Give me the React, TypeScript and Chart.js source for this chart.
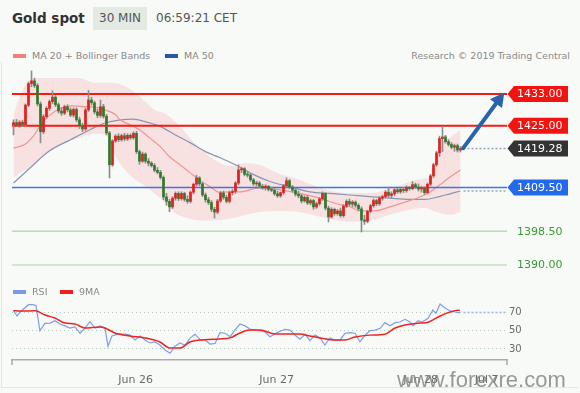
import React, { useEffect, useRef } from 'react';
import { Chart, registerables } from 'chart.js';

Chart.register(...registerables);
Chart.defaults.font.family = '"DejaVu Sans", sans-serif';

// 30-minute candles: [open, high, low, close]; x = bar number
const candles: number[][] = [
  [1425.2, 1426.5, 1422.7, 1425.8], [1425.8, 1426.6, 1424.9, 1425.1], [1425.1, 1426.3, 1424.6, 1425.9],
  [1425.9, 1426.4, 1424.8, 1425.3], [1425.3, 1430.5, 1424.9, 1430.2], [1430.2, 1436.0, 1429.8, 1435.6],
  [1435.6, 1438.8, 1434.8, 1436.3], [1436.3, 1437.0, 1434.6, 1435.1], [1435.1, 1435.6, 1430.0, 1430.5],
  [1430.5, 1431.0, 1420.7, 1423.5], [1423.5, 1427.8, 1423.0, 1427.3], [1427.3, 1429.8, 1426.8, 1429.4],
  [1429.4, 1431.5, 1428.9, 1431.1], [1431.1, 1433.8, 1430.5, 1432.2], [1432.2, 1432.6, 1429.8, 1430.3],
  [1430.3, 1430.8, 1428.2, 1428.7], [1428.7, 1429.6, 1427.6, 1428.2], [1428.2, 1430.2, 1427.8, 1429.8],
  [1429.8, 1430.3, 1428.5, 1429.0], [1429.0, 1429.5, 1427.3, 1427.7], [1427.7, 1429.5, 1427.2, 1429.1],
  [1429.1, 1429.5, 1426.0, 1426.5], [1426.5, 1427.2, 1424.3, 1425.0], [1425.0, 1425.6, 1423.5, 1424.2],
  [1424.2, 1429.5, 1423.8, 1429.0], [1429.0, 1433.9, 1428.6, 1431.5], [1431.5, 1432.2, 1430.2, 1430.8],
  [1430.8, 1431.2, 1428.0, 1428.5], [1428.5, 1429.2, 1427.0, 1427.6], [1427.6, 1431.5, 1427.1, 1429.8],
  [1429.8, 1430.4, 1426.9, 1427.4], [1427.4, 1427.9, 1422.7, 1423.2], [1423.2, 1423.6, 1411.9, 1415.2],
  [1415.2, 1421.5, 1414.8, 1421.2], [1421.2, 1422.8, 1420.8, 1422.4], [1422.4, 1423.0, 1421.0, 1421.5],
  [1421.5, 1422.9, 1421.1, 1422.5], [1422.5, 1423.1, 1421.2, 1421.7], [1421.7, 1423.0, 1421.3, 1422.6],
  [1422.6, 1423.0, 1421.6, 1422.0], [1422.0, 1423.5, 1421.6, 1423.1], [1423.1, 1423.6, 1418.0, 1418.5],
  [1418.5, 1418.9, 1415.3, 1416.1], [1416.1, 1418.4, 1415.8, 1417.9], [1417.9, 1418.2, 1415.6, 1416.1],
  [1416.1, 1416.8, 1414.9, 1415.6], [1415.6, 1416.0, 1414.6, 1415.0], [1415.0, 1415.5, 1413.4, 1413.8],
  [1413.8, 1414.5, 1412.9, 1413.3], [1413.3, 1413.8, 1411.6, 1412.0], [1412.0, 1412.4, 1406.4, 1407.1],
  [1407.1, 1408.0, 1405.0, 1406.0], [1406.0, 1406.5, 1403.4, 1404.6], [1404.6, 1407.2, 1404.2, 1406.8],
  [1406.8, 1408.4, 1406.3, 1408.0], [1408.0, 1408.4, 1406.2, 1406.7], [1406.7, 1408.4, 1406.3, 1408.0],
  [1408.0, 1408.3, 1406.0, 1406.5], [1406.5, 1407.4, 1405.5, 1406.0], [1406.0, 1408.6, 1405.6, 1408.3],
  [1408.3, 1410.6, 1407.9, 1410.3], [1410.3, 1412.6, 1409.8, 1411.9], [1411.9, 1412.2, 1409.9, 1410.4],
  [1410.4, 1410.8, 1407.2, 1407.6], [1407.6, 1408.1, 1405.8, 1406.4], [1406.4, 1407.0, 1405.2, 1405.7],
  [1405.7, 1406.2, 1403.4, 1404.0], [1404.0, 1404.5, 1401.8, 1403.3], [1403.3, 1406.5, 1402.9, 1406.1],
  [1406.1, 1408.5, 1405.7, 1408.1], [1408.1, 1408.6, 1406.5, 1407.0], [1407.0, 1407.5, 1405.6, 1406.0],
  [1406.0, 1408.6, 1405.6, 1408.2], [1408.2, 1409.0, 1407.6, 1408.5], [1408.5, 1411.0, 1408.0, 1410.6],
  [1410.6, 1415.2, 1410.2, 1413.9], [1413.9, 1414.6, 1413.2, 1414.2], [1414.2, 1414.5, 1412.4, 1412.8],
  [1412.8, 1413.6, 1412.1, 1412.6], [1412.6, 1413.0, 1411.0, 1411.4], [1411.4, 1411.8, 1410.0, 1410.4],
  [1410.4, 1411.1, 1409.8, 1410.6], [1410.6, 1411.0, 1409.4, 1409.8], [1409.8, 1410.3, 1409.0, 1409.4],
  [1409.4, 1410.2, 1408.8, 1409.8], [1409.8, 1410.0, 1408.6, 1409.0], [1409.0, 1409.6, 1408.4, 1408.8],
  [1408.8, 1409.2, 1407.5, 1407.9], [1407.9, 1408.6, 1407.0, 1407.4], [1407.4, 1408.4, 1407.0, 1408.2],
  [1408.2, 1410.3, 1407.8, 1409.9], [1409.9, 1411.9, 1409.5, 1411.2], [1411.2, 1411.5, 1409.2, 1409.6],
  [1409.6, 1410.0, 1408.3, 1408.8], [1408.8, 1409.4, 1407.3, 1407.8], [1407.8, 1408.6, 1406.9, 1407.4],
  [1407.4, 1407.8, 1405.6, 1406.1], [1406.1, 1407.4, 1405.8, 1407.0], [1407.0, 1407.5, 1405.2, 1405.6],
  [1405.6, 1406.6, 1405.1, 1406.2], [1406.2, 1406.5, 1404.0, 1404.6], [1404.6, 1405.8, 1404.2, 1405.4],
  [1405.4, 1407.0, 1405.0, 1406.6], [1406.6, 1408.4, 1406.2, 1408.0], [1408.0, 1408.2, 1403.8, 1404.3],
  [1404.3, 1404.8, 1400.8, 1402.1], [1402.1, 1404.4, 1401.8, 1404.0], [1404.0, 1404.3, 1402.5, 1402.9],
  [1402.9, 1404.0, 1402.5, 1403.6], [1403.6, 1404.3, 1402.0, 1402.4], [1402.4, 1405.2, 1402.0, 1404.8],
  [1404.8, 1406.4, 1404.4, 1406.0], [1406.0, 1406.6, 1404.8, 1405.3], [1405.3, 1406.2, 1404.6, 1405.8],
  [1405.8, 1406.1, 1404.5, 1405.0], [1405.0, 1405.4, 1403.6, 1404.1], [1404.1, 1404.6, 1398.3, 1401.3],
  [1401.3, 1402.5, 1400.2, 1401.0], [1401.0, 1403.8, 1400.6, 1403.5], [1403.5, 1405.3, 1403.1, 1404.9],
  [1404.9, 1406.6, 1404.5, 1406.2], [1406.2, 1406.5, 1404.9, 1405.4], [1405.4, 1407.2, 1405.0, 1406.8],
  [1406.8, 1407.6, 1406.3, 1407.2], [1407.2, 1408.7, 1406.8, 1408.3], [1408.3, 1409.6, 1407.0, 1407.5],
  [1407.5, 1408.4, 1406.9, 1407.9], [1407.9, 1409.2, 1407.4, 1408.9], [1408.9, 1409.3, 1408.0, 1408.4],
  [1408.4, 1409.3, 1408.0, 1409.0], [1409.0, 1409.5, 1408.2, 1408.7], [1408.7, 1409.9, 1408.3, 1409.5],
  [1409.5, 1409.8, 1408.8, 1409.2], [1409.2, 1411.0, 1408.9, 1410.2], [1410.2, 1410.6, 1409.2, 1409.6],
  [1409.6, 1410.4, 1408.6, 1409.1], [1409.1, 1409.8, 1408.3, 1409.4], [1409.4, 1409.7, 1407.8, 1408.2],
  [1408.2, 1410.6, 1407.9, 1410.3], [1410.3, 1412.8, 1409.9, 1412.4], [1412.4, 1415.6, 1412.0, 1415.2],
  [1415.2, 1418.6, 1414.8, 1418.2], [1418.2, 1422.4, 1417.3, 1421.8], [1421.8, 1424.8, 1418.5, 1422.2],
  [1422.2, 1422.6, 1420.6, 1421.0], [1421.0, 1421.5, 1419.9, 1420.3], [1420.3, 1420.8, 1419.2, 1419.6],
  [1419.6, 1420.4, 1418.6, 1420.0], [1420.0, 1420.4, 1418.4, 1418.9], [1418.9, 1419.8, 1418.4, 1419.28],
];

// Bollinger bands (MA 20 +/- 2 sd)
const bandIdx = [0, 2, 5, 9, 15, 22, 27, 31, 33, 35, 40, 44, 47, 50, 54, 57, 60, 64, 67, 72, 77, 82, 88, 95, 104, 112, 120, 124, 131, 137, 139, 141, 143, 146, 149];
const bandUpper = [1427.7, 1432.0, 1436.3, 1437.0, 1437.0, 1437.0, 1435.8, 1435.8, 1435.8, 1435.6, 1433.7, 1431.0, 1429.0, 1428.3, 1426.0, 1423.5, 1421.0, 1418.2, 1416.4, 1414.9, 1415.6, 1415.2, 1413.1, 1411.5, 1409.0, 1408.1, 1408.1, 1408.9, 1410.6, 1411.8, 1412.0, 1416.4, 1420.4, 1422.4, 1423.9];
const bandLower = [1411.9, 1413.0, 1414.4, 1416.8, 1419.8, 1422.0, 1423.0, 1422.5, 1418.9, 1416.0, 1411.8, 1409.8, 1408.0, 1406.0, 1403.0, 1402.0, 1401.4, 1401.1, 1401.2, 1401.6, 1402.5, 1403.3, 1403.6, 1403.3, 1401.8, 1400.9, 1401.3, 1402.3, 1403.7, 1404.4, 1403.9, 1403.3, 1402.9, 1402.6, 1403.3];

const ma20Idx = [0, 4, 7, 10, 14, 17, 20, 24, 27, 30, 34, 35.5, 39, 42, 45.5, 49, 52, 55.5, 59, 62, 65.5, 69, 72, 75.5, 82, 89, 95.5, 102, 109, 112, 115.5, 120.5, 125.5, 130.5, 135.5, 139, 142, 145.5, 149];
const ma20Val = [1419.4, 1420.4, 1422.8, 1426.2, 1428.7, 1429.7, 1430.0, 1429.8, 1429.7, 1429.1, 1427.8, 1426.5, 1425.2, 1424.0, 1421.9, 1419.7, 1417.2, 1415.2, 1413.1, 1411.4, 1409.7, 1408.2, 1408.4, 1408.4, 1409.4, 1408.9, 1408.0, 1406.8, 1405.1, 1404.7, 1403.6, 1403.6, 1404.6, 1405.8, 1407.1, 1408.4, 1410.1, 1412.1, 1413.9];

const ma50Idx = [0, 5.5, 12, 19, 25.5, 30.5, 40, 44, 49, 54, 59, 64, 69, 74, 79, 85.5, 92, 98.8, 105.5, 112, 118.8, 125.5, 132, 137, 142, 145.5, 149];
const ma50Val = [1410.6, 1414.4, 1418.7, 1421.5, 1424.0, 1425.7, 1426.7, 1426.0, 1424.8, 1422.7, 1420.7, 1418.5, 1416.9, 1415.2, 1413.1, 1411.0, 1409.7, 1408.4, 1408.0, 1407.6, 1407.2, 1406.8, 1406.5, 1406.5, 1407.2, 1407.9, 1408.6];

// RSI and its 9-period MA
const rsiIdx = [0, 1.2, 2.2, 5, 6.5, 7.5, 8.8, 10.5, 12.2, 13.8, 15.5, 17.2, 18.8, 20.5, 22.2, 23.8, 25.5, 27.2, 28.8, 30.5, 31.5, 32.8, 34.8, 37.2, 38.8, 40.5, 42.2, 43.8, 45.5, 47.2, 48.8, 50.5, 52.2, 53.8, 55.5, 57.2, 58.8, 60.5, 62.2, 63.8, 65.5, 67.2, 68.8, 70.5, 72.2, 73.8, 75.5, 77.2, 78.8, 80.5, 82.2, 83.8, 85.5, 88, 90.5, 92.2, 93.8, 95.5, 97.2, 98.8, 100.5, 102.2, 103.8, 105.5, 107.2, 108.8, 110.5, 112.2, 113.8, 115.5, 117.2, 118.8, 120.5, 122.2, 123.8, 125.5, 127.2, 128.8, 130.5, 132.2, 133.2, 134.8, 136.2, 138.2, 139.8, 140.8, 142.2, 143.8, 145.5, 147.2, 148.8];
const rsiVal = [71.4, 65.7, 70, 77.9, 77.9, 77, 49.8, 57.8, 58, 60.6, 57, 55, 52.7, 54, 47, 52.7, 59.6, 52.7, 55, 52.4, 33, 44, 46, 46.2, 45, 39.7, 44, 39.7, 36.5, 37.6, 34.3, 29, 25.4, 33, 36.5, 34, 41.5, 46, 40, 40, 35.4, 36, 47.6, 47, 43.3, 50.5, 57, 55, 51.6, 50.5, 49.5, 48.4, 43.3, 48, 51.3, 50.5, 45.1, 40.5, 46, 39, 45, 42, 34.3, 42, 39.7, 39.7, 47, 47.6, 47, 37.9, 45, 49.8, 50.5, 52.4, 58.5, 55, 58.5, 59.2, 62.1, 59.2, 55, 60.6, 59.2, 63.2, 72.2, 68.6, 78.6, 74.3, 71.4, 70, 69];
const rsiMaIdx = [0, 2.2, 7.2, 10.5, 13.8, 17.2, 20.5, 23.8, 28.8, 30.5, 33.8, 38.8, 43.8, 48.8, 52.2, 55.5, 58.8, 63.8, 68.8, 72.2, 75.5, 78.8, 82.2, 87.2, 92.2, 95.5, 98.8, 102.2, 107.2, 110.5, 113.8, 118.8, 123.8, 127.2, 130.5, 135.5, 138.2, 142.2, 145.5, 148.2, 148.8];
const rsiMaVal = [71.4, 71, 71.4, 66.8, 63.5, 58, 57, 52.7, 53.8, 52.7, 47.3, 44, 42, 37.6, 31, 31, 37.6, 40, 40.8, 42, 47.3, 50.5, 50.5, 46.2, 46.2, 46.2, 44, 42, 39.7, 39.7, 43, 45, 46, 52.7, 56, 58, 59, 65.7, 70, 72, 71.6];

// key levels
const levelValues = [1433, 1425, 1419.28, 1409.5, 1398.5, 1390];
const levelText = ['1433.00', '1425.00', '1419.28', '1409.50', '1398.50', '1390.00'];
const levelKind = ['res', 'res', 'last', 'sup', 'sup2', 'sup2'];
const ma50Last = 1408.6;
const rsiLast = 69.5;

const arrowFrom = [149.9, 1419.4];
const arrowTo = [163.6, 1433.4];

const xTickPos = [40.7, 87.7, 135.7, 157.7];
const xTickLabels = ['Jun 26', 'Jun 27', 'Jun 28', 'Jul 7'];
const rsiTicks = [30, 50, 70];

const X_MIN = -0.5;
const X_MAX = 164.5;

const UP = '#e41e1a';
const DOWN = '#2f7a2a';

const pts = (xs: number[], ys: number[]) => xs.map((x, i) => ({ x, y: ys[i] }));
const hline = (v: number, from = X_MIN) => [{ x: from, y: v }, { x: X_MAX, y: v }];

const tagColors: Record<string, string> = { res: '#f5130f', last: '#333333', sup: '#2468ec' };
const lineColors: Record<string, string> = { res: '#f51a14', sup: '#3c74ee', sup2: '#a9d3a0' };
const lineWidths: Record<string, number> = { res: 2, sup: 1.5, sup2: 1.2 };

const tagPlugin = {
  id: 'tags',
  afterDraw(chart: any) {
    const { ctx, chartArea, scales } = chart;
    const y = scales.y;
    levelValues.forEach((v, i) => {
      const kind = levelKind[i];
      const py = y.getPixelForValue(v);
      const x0 = chartArea.right;
      ctx.save();
      if (kind !== 'sup2') {
        ctx.fillStyle = tagColors[kind];
        ctx.beginPath();
        ctx.moveTo(x0 + 0.5, py);
        ctx.lineTo(x0 + 7, py - 8);
        ctx.lineTo(x0 + 61, py - 8);
        ctx.lineTo(x0 + 61, py + 8);
        ctx.lineTo(x0 + 7, py + 8);
        ctx.closePath();
        ctx.fill();
        ctx.fillStyle = '#ffffff';
      } else {
        ctx.fillStyle = '#3c9a35';
      }
      ctx.font = '11px "DejaVu Sans", sans-serif';
      ctx.textBaseline = 'middle';
      ctx.textAlign = 'left';
      ctx.fillText(levelText[i], x0 + 10, py + 0.5);
      ctx.restore();
    });
  },
};

const arrowPlugin = {
  id: 'arrow',
  afterDatasetsDraw(chart: any) {
    const { ctx, scales } = chart;
    const x1 = scales.x.getPixelForValue(arrowFrom[0]);
    const y1 = scales.y.getPixelForValue(arrowFrom[1]);
    const x2 = scales.x.getPixelForValue(arrowTo[0]);
    const y2 = scales.y.getPixelForValue(arrowTo[1]);
    const ang = Math.atan2(y2 - y1, x2 - x1);
    const head = 14;
    const hw = 7.5;
    const bx = x2 - head * Math.cos(ang);
    const by = y2 - head * Math.sin(ang);
    ctx.save();
    ctx.strokeStyle = '#2a63ad';
    ctx.fillStyle = '#2a63ad';
    ctx.lineWidth = 4;
    ctx.lineCap = 'round';
    ctx.beginPath();
    ctx.moveTo(x1, y1);
    ctx.lineTo(bx + 2 * Math.cos(ang), by + 2 * Math.sin(ang));
    ctx.stroke();
    ctx.beginPath();
    ctx.moveTo(x2, y2);
    ctx.lineTo(bx + hw * Math.sin(ang), by - hw * Math.cos(ang));
    ctx.lineTo(bx - hw * Math.sin(ang), by + hw * Math.cos(ang));
    ctx.closePath();
    ctx.fill();
    ctx.restore();
  },
};

const axisEndsPlugin = {
  id: 'axisEnds',
  afterDraw(chart: any) {
    const { ctx, chartArea } = chart;
    ctx.save();
    ctx.strokeStyle = '#ababab';
    ctx.lineWidth = 1.5;
    ctx.beginPath();
    ctx.moveTo(chartArea.left, chartArea.bottom);
    ctx.lineTo(chartArea.left, chartArea.bottom + 5);
    ctx.moveTo(chartArea.right, chartArea.bottom);
    ctx.lineTo(chartArea.right, chartArea.bottom + 5);
    ctx.stroke();
    ctx.restore();
  },
};

function mainConfig(): any {
  const wicks = candles.map((c, i) => ({ x: i, y: [c[2], c[1]] }));
  const bodies = candles.map((c, i) => ({ x: i, y: [Math.min(c[0], c[3]), Math.max(c[0], c[3])] }));
  const bodyColors = candles.map((c) => (c[3] >= c[0] ? UP : DOWN));
  const levelSets = levelValues
    .map((v, i) => ({ v, kind: levelKind[i] }))
    .filter((l) => l.kind !== 'last')
    .map((l) => ({
      type: 'line',
      data: hline(l.v),
      borderColor: lineColors[l.kind],
      borderWidth: lineWidths[l.kind],
      pointRadius: 0,
    }));
  return {
    type: 'bar',
    data: {
      datasets: [
        {
          type: 'bar',
          data: bodies,
          backgroundColor: bodyColors,
          barThickness: 2,
          minBarLength: 1,
          grouped: false,
          borderWidth: 0,
        },
        {
          type: 'bar',
          data: wicks,
          backgroundColor: '#8d8d8d',
          barThickness: 1,
          grouped: false,
          borderWidth: 0,
        },
        ...levelSets,
        {
          type: 'line',
          data: hline(levelValues[2], 150),
          borderColor: '#92a8c0',
          borderWidth: 1.5,
          borderDash: [2, 2],
          pointRadius: 0,
        },
        {
          type: 'line',
          data: hline(ma50Last, 150),
          borderColor: '#92a8c0',
          borderWidth: 1.5,
          borderDash: [2, 2],
          pointRadius: 0,
        },
        {
          type: 'line',
          data: pts(ma20Idx, ma20Val),
          borderColor: '#f29494',
          borderWidth: 1.2,
          pointRadius: 0,
          tension: 0.4,
          cubicInterpolationMode: 'monotone',
        },
        {
          type: 'line',
          data: pts(ma50Idx, ma50Val),
          borderColor: '#8596b4',
          borderWidth: 1.2,
          pointRadius: 0,
          tension: 0.4,
          cubicInterpolationMode: 'monotone',
        },
        {
          type: 'line',
          data: pts(bandIdx, bandUpper),
          borderWidth: 0,
          borderColor: 'rgba(0,0,0,0)',
          backgroundColor: 'rgba(246,160,160,0.26)',
          fill: '+1',
          pointRadius: 0,
          tension: 0.4,
          cubicInterpolationMode: 'monotone',
        },
        {
          type: 'line',
          data: pts(bandIdx, bandLower),
          borderWidth: 0,
          borderColor: 'rgba(0,0,0,0)',
          pointRadius: 0,
          fill: false,
          tension: 0.4,
          cubicInterpolationMode: 'monotone',
        },
      ],
    },
    options: {
      animation: false,
      responsive: false,
      devicePixelRatio: 1,
      layout: { padding: { left: 12, right: 73, top: 5, bottom: 5 } },
      plugins: { legend: { display: false }, tooltip: { enabled: false } },
      scales: {
        x: { type: 'linear', min: X_MIN, max: X_MAX, display: false, offset: false },
        y: { type: 'linear', min: 1387.48, max: 1439.03, display: false },
      },
    },
    plugins: [arrowPlugin, tagPlugin],
  };
}

function rsiConfig(): any {
  return {
    type: 'line',
    data: {
      datasets: [
        {
          data: pts(rsiMaIdx, rsiMaVal),
          borderColor: '#ee2424',
          borderWidth: 1.5,
          pointRadius: 0,
          tension: 0.4,
          cubicInterpolationMode: 'monotone',
        },
        {
          data: pts(rsiIdx, rsiVal),
          borderColor: '#809ee8',
          borderWidth: 1.2,
          pointRadius: 0,
          tension: 0,
        },
        {
          data: hline(rsiLast, 150),
          borderColor: '#9db4e6',
          borderWidth: 1.5,
          borderDash: [2, 2],
          pointRadius: 0,
        },
      ],
    },
    options: {
      animation: false,
      responsive: false,
      devicePixelRatio: 1,
      layout: { padding: { left: 12, right: 0, top: 10, bottom: 0 } },
      plugins: { legend: { display: false }, tooltip: { enabled: false } },
      scales: {
        x: {
          type: 'linear',
          min: X_MIN,
          max: X_MAX,
          offset: false,
          afterBuildTicks: (s: any) => {
            s.ticks = xTickPos.map((v) => ({ value: v }));
          },
          afterFit: (s: any) => {
            s.height = 33;
          },
          grid: { display: false },
          border: { display: true, color: '#ababab', width: 1.5 },
          ticks: {
            autoSkip: false,
            maxRotation: 0,
            padding: 6,
            color: '#6a6a6a',
            font: { size: 11 },
            callback: (_v: any, i: number) => xTickLabels[i],
          },
        },
        y: {
          type: 'linear',
          position: 'right',
          min: 18.1,
          max: 93.8,
          afterBuildTicks: (s: any) => {
            s.ticks = rsiTicks.map((v) => ({ value: v }));
          },
          afterFit: (s: any) => {
            s.width = 73;
          },
          grid: { color: '#b3cbb8', drawTicks: false, lineWidth: 1 },
          border: { display: false, dash: [1, 3] },
          ticks: { padding: 2, color: '#6a6a6a', font: { size: 10 } },
        },
      },
    },
    plugins: [axisEndsPlugin],
  };
}

const legendText: React.CSSProperties = {
  position: 'absolute',
  fontSize: 9.5,
  lineHeight: '12px',
  color: '#888',
  whiteSpace: 'nowrap',
};

export default function App() {
  const mainRef = useRef<HTMLCanvasElement>(null);
  const rsiRef = useRef<HTMLCanvasElement>(null);

  useEffect(() => {
    const c1 = new Chart(mainRef.current as HTMLCanvasElement, mainConfig());
    const c2 = new Chart(rsiRef.current as HTMLCanvasElement, rsiConfig());
    return () => {
      c1.destroy();
      c2.destroy();
    };
  }, []);

  return (
    <div
      style={{
        position: 'absolute',
        left: 0,
        top: 0,
        width: 580,
        height: 393,
        background: '#f8faf8',
        overflow: 'hidden',
        fontFamily: '"DejaVu Sans", sans-serif',
      }}
    >
      <div
        style={{
          position: 'absolute',
          left: 1,
          top: 62,
          width: 576,
          height: 325,
          borderLeft: '1px solid #e3e7e3',
          borderBottom: '1px solid #e3e7e3',
        }}
      />
      <div style={{ position: 'absolute', left: 12, top: 10, fontSize: 13.5, fontWeight: 'bold', lineHeight: '16px', color: '#333' }}>
        Gold spot
      </div>
      <div
        style={{
          position: 'absolute',
          left: 93,
          top: 7,
          width: 54,
          height: 23,
          background: '#e3eae3',
          fontSize: 12,
          lineHeight: '23px',
          textAlign: 'center',
          color: '#555',
        }}
      >
        30 MIN
      </div>
      <div style={{ position: 'absolute', left: 156, top: 11, fontSize: 12, lineHeight: '14px', color: '#555' }}>06:59:21 CET</div>

      <div style={{ position: 'absolute', left: 13, top: 54, width: 13, height: 4, background: '#f47e7e' }} />
      <div style={{ ...legendText, left: 32, top: 50 }}>MA 20 + Bollinger Bands</div>
      <div style={{ position: 'absolute', left: 165, top: 54, width: 13, height: 4, background: '#2458a6' }} />
      <div style={{ ...legendText, left: 184, top: 50 }}>MA 50</div>
      <div style={{ ...legendText, right: 10, top: 50, color: '#8a8a8a' }}>Research © 2019 Trading Central</div>

      <canvas
        ref={mainRef}
        width={580}
        height={215}
        style={{ position: 'absolute', left: 0, top: 65, width: 580, height: 215, display: 'block' }}
      />
      <canvas
        ref={rsiRef}
        width={580}
        height={113}
        style={{ position: 'absolute', left: 0, top: 280, width: 580, height: 113, display: 'block' }}
      />

      <div style={{ position: 'absolute', left: 13, top: 290, width: 13, height: 4, background: '#7b98ea' }} />
      <div style={{ ...legendText, left: 32, top: 286 }}>RSI</div>
      <div style={{ position: 'absolute', left: 60, top: 290, width: 13, height: 4, background: '#ee2020' }} />
      <div style={{ ...legendText, left: 79, top: 286 }}>9MA</div>

      <div
        style={{
          position: 'absolute',
          left: 397,
          top: 367,
          fontFamily: '"Liberation Sans", Arial, sans-serif',
          fontSize: 22,
          lineHeight: '26px',
          color: 'rgba(128,128,128,0.8)',
          whiteSpace: 'nowrap',
        }}
      >
        www.forexre.com
      </div>
    </div>
  );
}
